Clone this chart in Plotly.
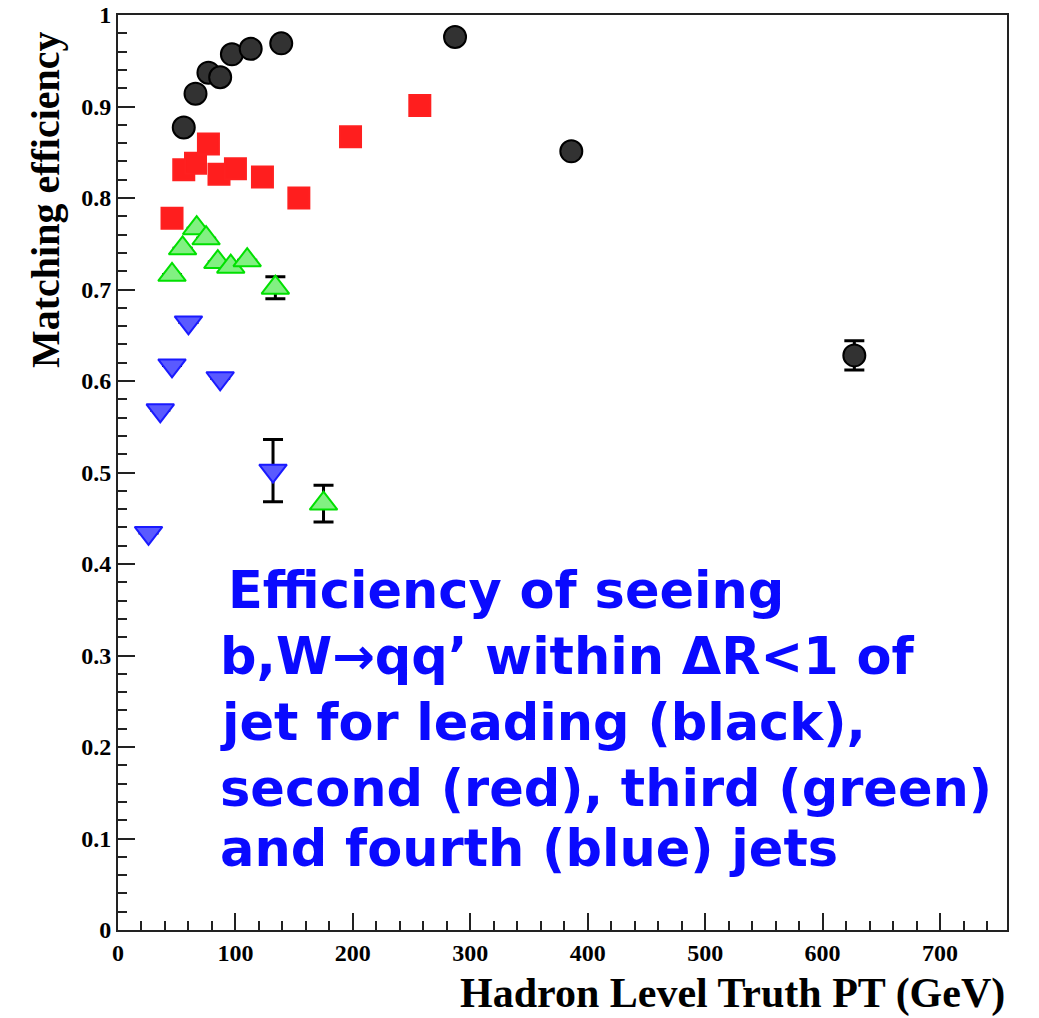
import plotly.graph_objects as go

# ---- data ----
# error values of None = bar hidden under the marker in the reference
black_x = [56, 66, 77, 87, 97, 113, 139, 287, 386, 627]
black_y = [0.877, 0.914, 0.937, 0.932, 0.957, 0.963, 0.969, 0.976, 0.851, 0.628]
black_err = [None, None, None, None, None, None, None, None, None, 0.016]

red_x = [46, 56, 66, 77, 86, 100, 123, 154, 198, 257]
red_y = [0.778, 0.831, 0.838, 0.859, 0.826, 0.832, 0.823, 0.800, 0.867, 0.901]
red_err = [None, None, None, None, None, None, None, None, None, None]

green_x = [46, 55, 67, 75, 85, 96, 110, 134, 175]
green_y = [0.716, 0.745, 0.767, 0.756, 0.730, 0.725, 0.732, 0.702, 0.466]
green_err = [None, None, None, None, None, None, None, 0.012, 0.020]

blue_x = [26, 36, 46, 60, 87, 132]
blue_y = [0.434, 0.568, 0.617, 0.664, 0.603, 0.502]
blue_err = [None, None, None, None, None, 0.034]

x_ticks = [0, 100, 200, 300, 400, 500, 600, 700]
y_ticks = [0, 0.1, 0.2, 0.3, 0.4, 0.5, 0.6, 0.7, 0.8, 0.9, 1]

text_lines = [
    "Efficiency of seeing",
    "b,W\u2192qq\u2019 within \u0394R<1 of",
    "jet for leading (black),",
    "second (red), third (green)",
    "and fourth (blue) jets",
]

series = [
    (black_x, black_y, black_err, "circle", "rgb(50,50,50)", "black", 22),
    (red_x, red_y, red_err, "square", "rgb(255,30,30)", "#ff2020", 21),
    (green_x, green_y, green_err, "triangle-up", "rgb(130,240,130)", "#00e000", 24),
    (blue_x, blue_y, blue_err, "triangle-down", "rgb(90,90,255)", "#1a1aff", 24),
]

fig = go.Figure()

# error bars first (drawn underneath the markers)
for x, y, err, symbol, fill, line, size in series:
    fig.add_trace(go.Scatter(
        x=x, y=y, mode="markers",
        error_y=dict(type="data", array=err, color="black", thickness=3, width=10),
        marker=dict(size=1, opacity=0),
        showlegend=False, hoverinfo="skip",
    ))
# markers on top (opaque fills)
for x, y, err, symbol, fill, line, size in series:
    fig.add_trace(go.Scatter(
        x=x, y=y, mode="markers",
        marker=dict(symbol=symbol, size=size, color=fill,
                    line=dict(color=line, width=2)),
        showlegend=False,
    ))

serif = "Liberation Serif"

fig.update_xaxes(
    range=[0, 757], tickvals=x_ticks, ticktext=[str(v) for v in x_ticks],
    ticks="inside", ticklen=17, tickwidth=2, tickcolor="#222",
    minor=dict(dtick=20, ticks="inside", ticklen=9, tickwidth=2, tickcolor="#222"),
    showline=True, linecolor="#222", linewidth=2, mirror=True,
    showgrid=False, zeroline=False,
    tickfont=dict(family=serif, size=24, color="black", weight="bold"),
)
fig.update_yaxes(
    range=[0, 1], tickvals=y_ticks, ticktext=[("%g" % v) for v in y_ticks],
    ticks="inside", ticklen=17, tickwidth=2, tickcolor="#222",
    minor=dict(dtick=0.02, ticks="inside", ticklen=9, tickwidth=2, tickcolor="#222"),
    showline=True, linecolor="#222", linewidth=2, mirror=True,
    showgrid=False, zeroline=False,
    tickfont=dict(family=serif, size=24, color="black", weight="bold"),
)

ann = []
# axis titles
ann.append(dict(text="Matching efficiency", xref="paper", yref="paper",
                x=(45 - 118) / 889, y=(930 - 200) / 915, textangle=-90,
                showarrow=False, xanchor="center", yanchor="middle",
                font=dict(family=serif, size=40, color="black", weight="bold")))
ann.append(dict(text="Hadron Level Truth PT (GeV)", xref="paper", yref="paper",
                x=(1007 - 118) / 889, y=(930 - 993) / 915,
                showarrow=False, xanchor="right", yanchor="middle",
                font=dict(family=serif, size=42, color="black", weight="bold")))

line_y = [590, 656, 722, 788, 848]
line_x = [226, 218, 218, 218, 218]
for t, px, py in zip(text_lines, line_x, line_y):
    ann.append(dict(text=t, xref="paper", yref="paper",
                    x=(px - 118) / 889, y=(930 - py) / 915,
                    showarrow=False, xanchor="left", yanchor="middle",
                    font=dict(family="DejaVu Sans", size=51, color="#0a0aff", weight="bold")))

fig.update_layout(
    width=1039, height=1018,
    margin=dict(l=118, r=32, t=15, b=88, autoexpand=False),
    paper_bgcolor="white", plot_bgcolor="white",
    annotations=ann,
)

fig.write_html("out.html")
